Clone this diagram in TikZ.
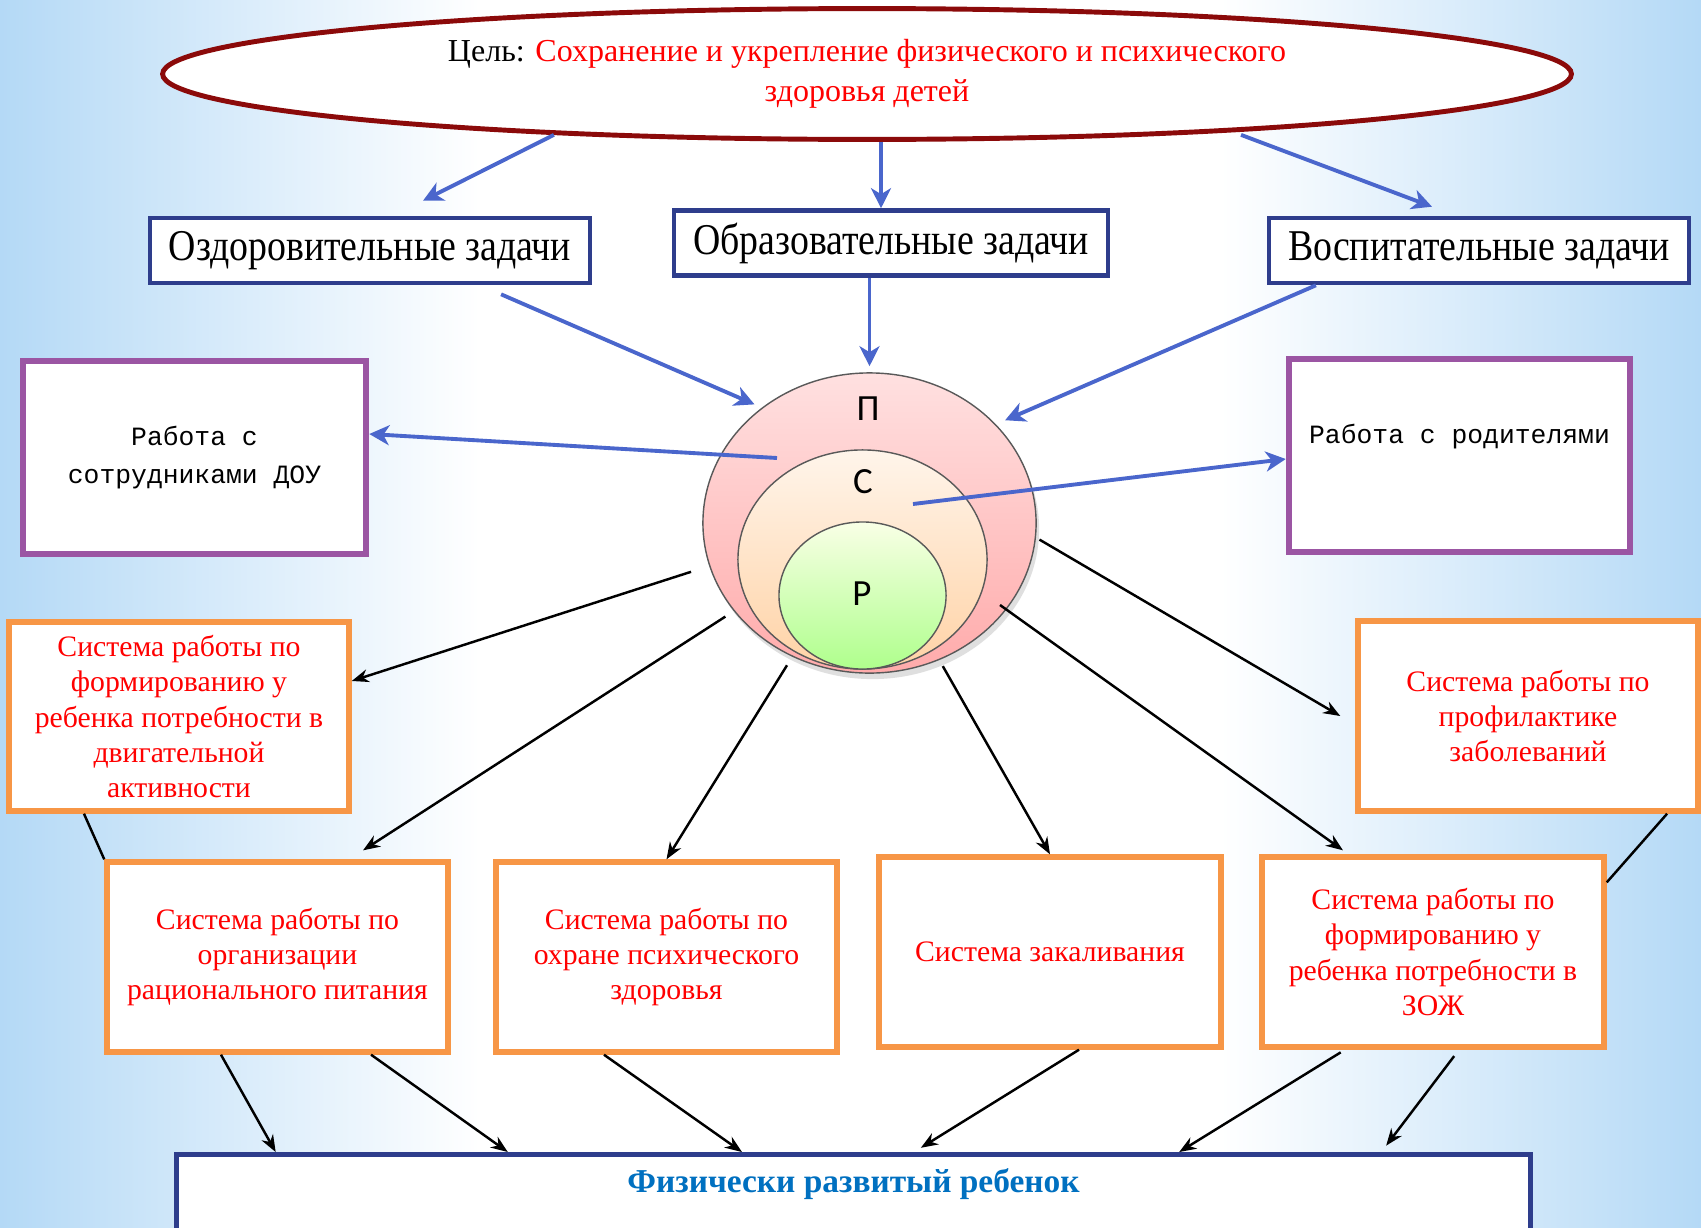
\documentclass[tikz,border=0pt]{standalone}
\usepackage{fontspec}
\setmainfont{Liberation Serif}
\newfontfamily\narrowfont{Liberation Serif}[FakeStretch=0.86]
\newfontfamily\typefont{Liberation Mono}
\newfontfamily\circfont{Carlito}
\usetikzlibrary{arrows.meta, shapes.geometric, shadows}
\definecolor{bgblue}{HTML}{B4D9F6}
\definecolor{goalred}{HTML}{8B0A0A}
\definecolor{taskblue}{HTML}{2E3D8C}
\definecolor{arrblue}{HTML}{4A66CC}
\definecolor{boxviolet}{HTML}{9B55A3}
\definecolor{boxorange}{HTML}{F79646}
\definecolor{resblue}{HTML}{0070C0}
\tikzset{
  goalbox/.style={ellipse, draw=goalred, line width=1.4pt, fill=white,
                  minimum width=14.08cm, minimum height=1.30cm, align=center,
                  font=\fontsize{9.1}{11.4}\selectfont},
  task/.style={draw=taskblue, line width=1.3pt, fill=white, minimum height=0.65cm,
               inner sep=0pt, font=\narrowfont\fontsize{12.5}{14}\selectfont},
  work/.style={draw=boxviolet, line width=1.8pt, fill=white, minimum width=3.43cm,
               minimum height=1.93cm, align=center, font=\typefont\fontsize{7.5}{11}\selectfont},
  sys/.style={draw=boxorange, line width=1.5pt, fill=white, minimum width=3.41cm,
              minimum height=1.9cm, align=center, text=red, inner sep=1pt,
              font=\fontsize{8.45}{10}\selectfont},
  resbox/.style={draw=taskblue, line width=1.3pt, fill=white, minimum width=13.53cm,
                 text=resblue, inner ysep=0.13cm, text height=0.25cm, text depth=0.8cm,
                 font=\bfseries\fontsize{9.5}{12}\selectfont},
  ring/.style={ellipse, draw=gray!70!black, line width=0.4pt, inner sep=0pt},
  letter/.style={font=\circfont\fontsize{10.5}{12}\selectfont},
  blueflow/.style={-{Stealth[length=2mm, width=2mm, inset=0.6mm]}, line width=1.1pt, draw=arrblue},
  flow/.style={-{Stealth[length=1.7mm, width=1.3mm]}, line width=0.7pt, draw=black},
}
\begin{document}
\begin{tikzpicture}[x=0.01cm, y=-0.01cm]
  \useasboundingbox (0,0) rectangle (1701,1227);
  \fill[white] (0,0) rectangle (1701,1227);
  \shade[left color=bgblue, right color=white] (0,0) rectangle (480,1227);
  \shade[left color=white, right color=bgblue] (1220,0) rectangle (1701,1227);

  \node[goalbox] (goal) at (867,74)
    {Цель: \textcolor{red}{Сохранение и укрепление физического и психического}\\
     \textcolor{red}{здоровья детей}};

  \node[task, minimum width=4.40cm] (ozd) at (370,250.5) {Оздоровительные задачи};
  \node[task, minimum width=4.34cm] (obr) at (891,243) {Образовательные задачи};
  \node[task, minimum width=4.20cm] (vos) at (1479,250.5) {Воспитательные задачи};

  \node[ring, minimum width=3.33cm, minimum height=3.00cm, top color=red!12, bottom color=red!33,
        drop shadow={opacity=0.25, shadow xshift=0.3mm, shadow yshift=-0.6mm}] (pp) at (869.5,523) {};
  \node[ring, minimum width=2.49cm, minimum height=2.19cm, top color=orange!8, bottom color=orange!35] (ss) at (862.5,559.5) {};
  \node[ring, minimum width=1.67cm, minimum height=1.47cm, top color=lime!10, bottom color=lime!40!green!45] (rr) at (862.5,595.5) {};
  \node[letter] (lp) at (868,409) {П};
  \node[letter] (lc) at (863,482) {С};
  \node[letter] (lr) at (862,594) {Р};

  \node[work] (sot) at (194.5,457.5) {Работа с\\сотрудниками ДОУ};
  \node[work, minimum width=3.41cm, text height=0.25cm, text depth=0.5cm] (rod) at (1459.5,455.5) {Работа с родителями};

  \node[sys, minimum width=3.40cm, minimum height=1.89cm] (dvig) at (179,716.5)
    {Система работы по\\формированию у\\ребенка потребности в\\двигательной\\активности};
  \node[sys, minimum width=3.40cm] (prof) at (1528,716)
    {Система работы по\\профилактике\\заболеваний};
  \node[sys] (pit) at (277.5,957) {Система работы по\\организации\\рационального питания};
  \node[sys] (psy) at (666.5,957) {Система работы по\\охране психического\\здоровья};
  \node[sys, minimum width=3.42cm] (zak) at (1050,952) {Система закаливания};
  \node[sys, minimum width=3.42cm] (zozh) at (1433,952)
    {Система работы по\\формированию у\\ребенка потребности в\\ЗОЖ};

  \node[resbox, anchor=north] (res) at (853.5,1152) {Физически развитый ребенок};

  \coordinate (ppdot) at (777,458);
  \coordinate (ssdot) at (913,504);
  \coordinate (ppedge) at (1000,605);

  \draw[blueflow] (goal.191) -- ([xshift=0.53cm, yshift=0.15cm]ozd.north);
  \draw[blueflow] ([xshift=0.14cm]goal.south) -- ([xshift=0.14cm]goal.south |- obr.north);
  \draw[blueflow, shorten <=0.8mm] (goal.-9.5) -- ([xshift=-0.47cm, yshift=0.09cm]vos.north);
  \draw[blueflow, shorten >=0.8mm] ([xshift=1.31cm, yshift=-0.09cm]ozd.south) -- (pp.133);
  \draw[blueflow, shorten >=0.6mm] (obr.south -| pp.north) -- (pp.north);
  \draw[blueflow, shorten >=1mm] ([xshift=-1.63cm]vos.south) -- (pp.38);
  \draw[blueflow] (ppdot) -- ([yshift=0.235cm]sot.east);
  \draw[blueflow] (ssdot) -- ([yshift=-0.035cm]rod.west);

  \draw[flow, shorten <=1.9mm] (pp.195) -- ([yshift=0.355cm]dvig.east);
  \draw[flow, shorten <=1mm] (pp.213) -- ([xshift=0.855cm, yshift=0.09cm]pit.north);
  \draw[flow, shorten <=1mm] (pp.240) -- (psy.north);
  \draw[flow, shorten <=0.7mm] (pp.297) -- (zak.north);
  \draw[flow] (ppedge) -- ([xshift=-0.9cm, yshift=0.04cm]zozh.north);
  \draw[flow, shorten <=0.4mm] (pp.355) -- ([xshift=-0.15cm]prof.west);

  \draw[line width=0.7pt] ([xshift=-0.95cm]dvig.south) -- (pit.north west);
  \draw[line width=0.7pt] ([xshift=1.39cm]prof.south) -- ([yshift=-0.28cm]zozh.north east);

  \foreach \s/\a/\b in {pit/-0.565/-5.775, pit/0.935/-3.455, psy/-0.625/-1.115}
    \draw[flow] ([xshift=\a cm]\s.south) -- ([xshift=\b cm]res.north);
  \draw[flow, shorten >=0.8mm] ([xshift=0.29cm]zak.south) -- ([xshift=0.605cm]res.north);
  \draw[flow, shorten <=0.5mm] ([xshift=-0.88cm]zozh.south) -- ([xshift=3.255cm]res.north);
  \draw[flow, shorten <=0.8mm, shorten >=0.8mm] ([xshift=0.26cm]zozh.south) -- ([xshift=5.275cm]res.north);
\end{tikzpicture}
\end{document}
